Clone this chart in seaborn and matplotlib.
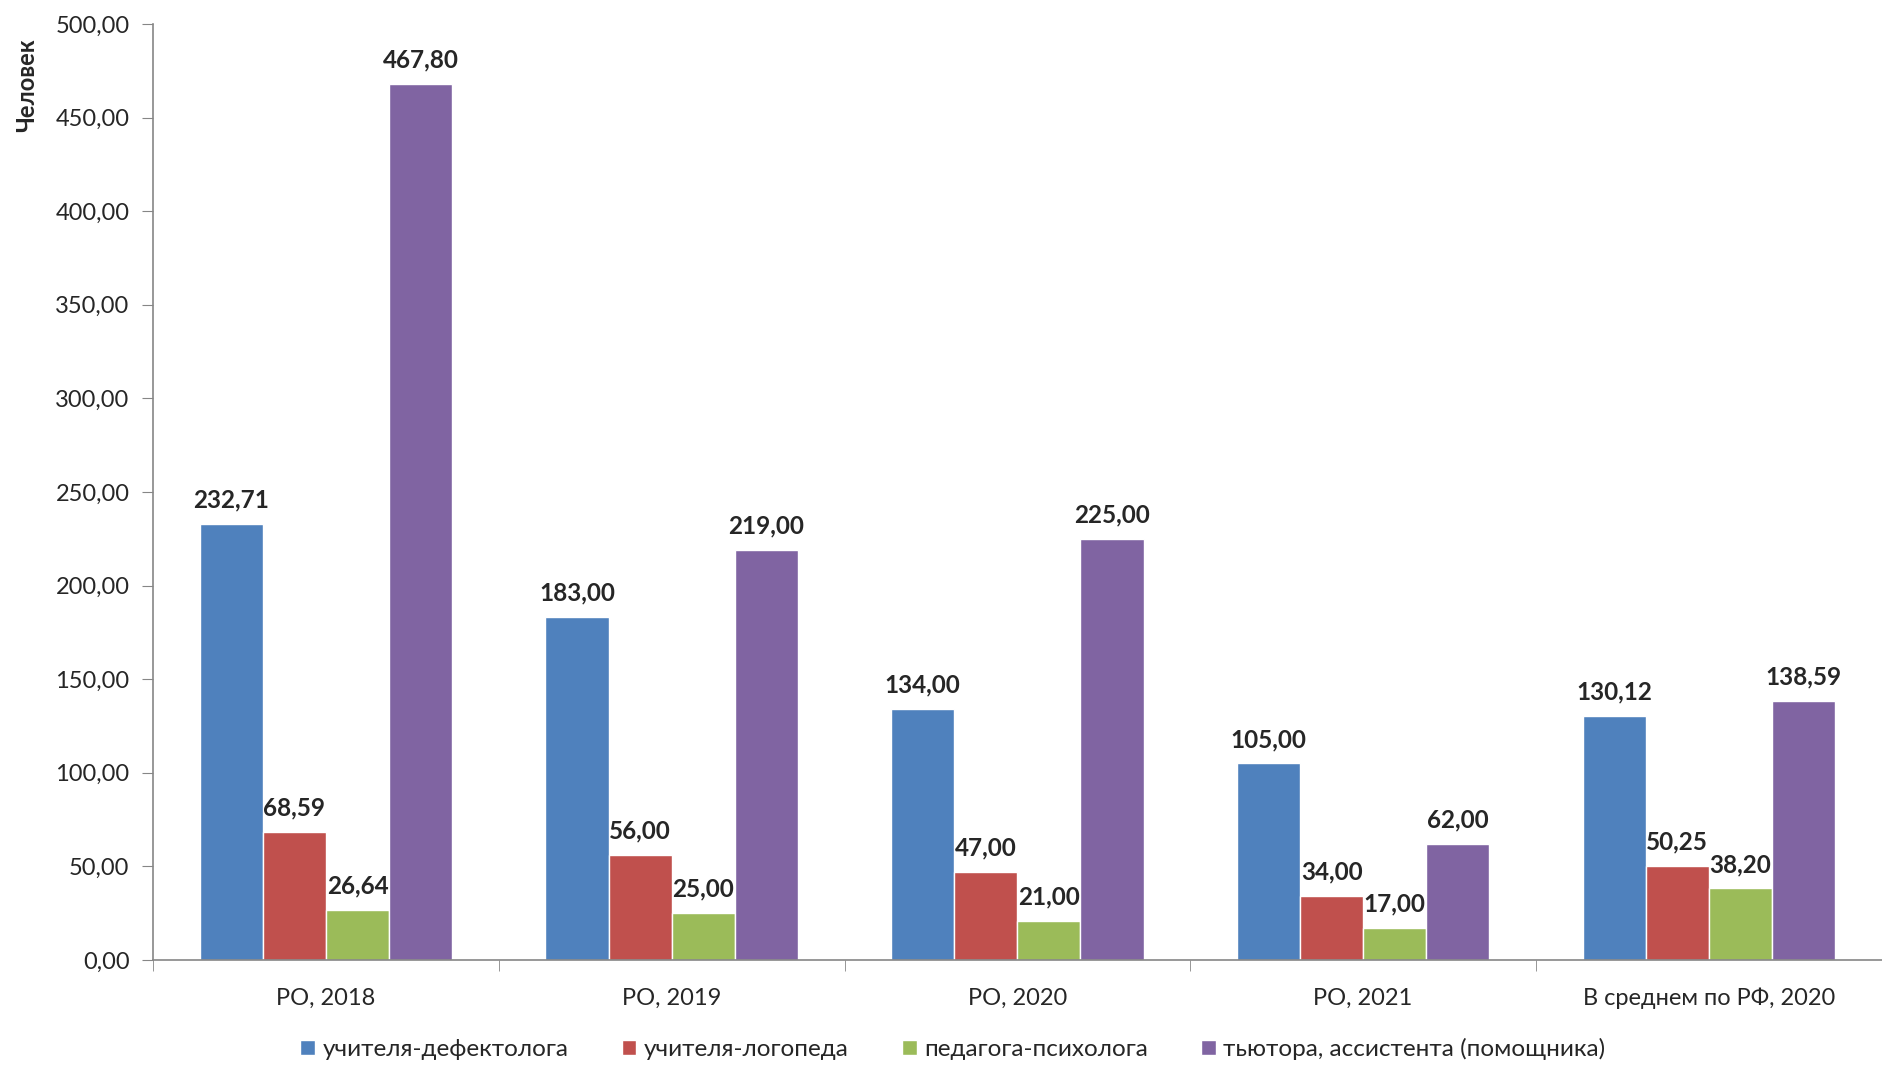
import numpy as np
import pandas as pd
import seaborn as sns
import matplotlib.pyplot as plt
from matplotlib.ticker import FuncFormatter, FixedLocator

# данные
categories = ['РО, 2018', 'РО, 2019', 'РО, 2020', 'РО, 2021', 'В среднем по РФ, 2020']
series = ['учителя-дефектолога', 'учителя-логопеда', 'педагога-психолога',
          'тьютора, ассистента (помощника)']
defectolog = [232.71, 183.00, 134.00, 105.00, 130.12]
logoped = [68.59, 56.00, 47.00, 34.00, 50.25]
psiholog = [26.64, 25.00, 21.00, 17.00, 38.20]
tutor = [467.80, 219.00, 225.00, 62.00, 138.59]
colors = ['#4F81BD', '#C0504D', '#9BBB59', '#8064A2']

df = pd.DataFrame({
    'cat': categories * 4,
    'ser': [s for s in series for _ in categories],
    'val': defectolog + logoped + psiholog + tutor,
})

sns.set_style('white')
plt.rcParams['font.family'] = ['Lato', 'DejaVu Sans']

fig = plt.figure(figsize=(18.83, 10.67), dpi=100)
ax = fig.add_axes([0.0813, 0.1003, 0.918, 0.8772])

sns.barplot(data=df, x='cat', y='val', hue='ser', order=categories, hue_order=series,
            palette=colors, width=0.73, gap=0, saturation=1, ax=ax, legend=True)

for cont in ax.containers:
    labels = [('%.2f' % v).replace('.', ',') for v in cont.datavalues]
    ax.bar_label(cont, labels=labels, padding=9, fontsize=17.5, fontweight='bold')

ax.set_ylim(0, 500)
ax.set_xlim(-0.5, 4.5)
ax.set_yticks(np.arange(0, 501, 50))
ax.yaxis.set_major_formatter(FuncFormatter(lambda v, p: ('%.2f' % v).replace('.', ',')))
ax.tick_params(axis='y', labelsize=17, length=8, color='#868686', direction='out', left=True, pad=9)
ax.tick_params(axis='x', which='major', length=0, labelsize=17, pad=20)
ax.xaxis.set_minor_locator(FixedLocator(np.arange(-0.5, 4.6, 1)))
ax.tick_params(axis='x', which='minor', length=8, color='#868686', direction='out', bottom=True)
ax.set_xlabel('')
ax.set_ylabel('')
for s in ['top', 'right']:
    ax.spines[s].set_visible(False)
for s in ['left', 'bottom']:
    ax.spines[s].set_color('#868686')
    ax.spines[s].set_linewidth(1.2)

fig.text(0.014, 0.92, 'Человек', rotation=90, fontsize=17, fontweight='bold', ha='center', va='center')

handles, labs = ax.get_legend_handles_labels()
ax.get_legend().remove()
fig.legend(handles, labs, loc='lower center', bbox_to_anchor=(0.506, -0.014), ncol=4,
           frameon=False, fontsize=17.5, handlelength=0.6, handleheight=0.6,
           handletextpad=0.3, columnspacing=2.2)

fig.savefig('out.png', dpi=100)
